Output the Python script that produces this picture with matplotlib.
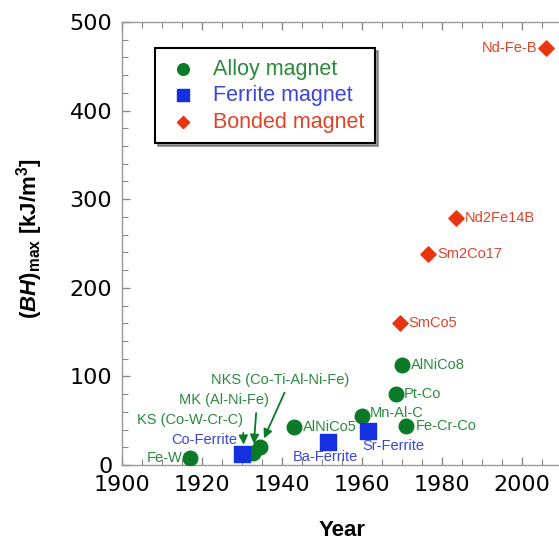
import matplotlib
matplotlib.use("Agg")
import matplotlib.pyplot as plt
from matplotlib.ticker import MultipleLocator

plt.rcParams['mathtext.fontset'] = 'custom'
plt.rcParams['mathtext.rm'] = 'Liberation Sans:bold'
plt.rcParams['mathtext.it'] = 'Liberation Sans:italic:bold'
plt.rcParams['mathtext.bf'] = 'Liberation Sans:bold'

# alloy magnets
alloy_names = ['Fe-W', 'KS (Co-W-Cr-C)', 'MK (Al-Ni-Fe)', 'NKS (Co-Ti-Al-Ni-Fe)',
               'AlNiCo5', 'Mn-Al-C', 'Pt-Co', 'AlNiCo8', 'Fe-Cr-Co']
alloy_year = [1917, 1930.5, 1932.8, 1934.5, 1943, 1960, 1968.5, 1970, 1971]
alloy_bh = [8, 12, 13, 20, 43, 55, 80, 113, 44]

# ferrite magnets
ferrite_names = ['Co-Ferrite', 'Ba-Ferrite', 'Sr-Ferrite']
ferrite_year = [1930, 1951.5, 1961.5]
ferrite_bh = [12, 26, 38]

# bonded magnets
bonded_names = ['SmCo5', 'Sm2Co17', 'Nd2Fe14B', 'Nd-Fe-B']
bonded_year = [1969.5, 1976.5, 1983.5, 2006]
bonded_bh = [160, 238, 279, 471]

green = '#0b7a26'
blue = '#1530e0'
red = '#e8350f'
green_t = '#2b8a3c'
blue_t = '#3a46d8'
red_t = '#e0432a'

fig = plt.figure(figsize=(5.59, 5.43), dpi=100)
ax = fig.add_axes([122 / 559, 1 - 465 / 543, 440 / 559, 443 / 543])

ax.scatter(alloy_year, alloy_bh, s=110, marker='o', color=green, zorder=3,
           label='Alloy magnet')
ax.scatter(ferrite_year, ferrite_bh, s=130, marker='s', color=blue, zorder=3,
           label='Ferrite magnet')
ax.scatter(bonded_year, bonded_bh, s=60, marker='D', color=red, zorder=3,
           label='Bonded magnet')

tfont = dict(family='Liberation Sans', fontsize=10.5)

# label offsets in pixels: (dx, dy, ha)
alloy_off = {
    'Fe-W': (-8, 0, 'right'),
    'AlNiCo5': (9, 0, 'left'),
    'Mn-Al-C': (8, 3, 'left'),
    'Pt-Co': (8, 0, 'left'),
    'AlNiCo8': (9, 0, 'left'),
    'Fe-Cr-Co': (10, 0, 'left'),
}
arrow_off = {
    'KS (Co-W-Cr-C)': (-54, 34, (1.0, 0.0)),
    'MK (Al-Ni-Fe)': (-29, 53, (0.86, 0.0)),
    'NKS (Co-Ti-Al-Ni-Fe)': (20, 67, (0.55, 0.0)),
}
for name, x, y in zip(alloy_names, alloy_year, alloy_bh):
    if name in alloy_off:
        dx, dy, ha = alloy_off[name]
        ax.annotate(name, (x, y), xytext=(dx, dy), textcoords='offset pixels',
                    ha=ha, va='center', color=green_t, **tfont)
    else:
        dx, dy, rp = arrow_off[name]
        ax.annotate(name, (x, y), xytext=(dx, dy), textcoords='offset pixels',
                    ha='center', va='center', color=green_t, **tfont,
                    arrowprops=dict(arrowstyle='-|>,head_length=0.5,head_width=0.25',
                                    color=green, lw=1.3, relpos=rp,
                                    shrinkA=2, shrinkB=7))

ferrite_off = [(-5, 14, 'right'), (-3, -15, 'center'), (-6, -15, 'left')]
for name, x, y, (dx, dy, ha) in zip(ferrite_names, ferrite_year, ferrite_bh, ferrite_off):
    ax.annotate(name, (x, y), xytext=(dx, dy), textcoords='offset pixels',
                ha=ha, va='center', color=blue_t, **tfont)

bonded_off = [(8, 0, 'left'), (9, 0, 'left'), (9, 0, 'left'), (-9, 0, 'right')]
for name, x, y, (dx, dy, ha) in zip(bonded_names, bonded_year, bonded_bh, bonded_off):
    ax.annotate(name, (x, y), xytext=(dx, dy), textcoords='offset pixels',
                ha=ha, va='center', color=red_t, **tfont)

ax.set_xlim(1900, 2010)
ax.set_ylim(0, 500)
ax.xaxis.set_major_locator(MultipleLocator(20))
ax.xaxis.set_minor_locator(MultipleLocator(5))
ax.yaxis.set_major_locator(MultipleLocator(100))
ax.yaxis.set_minor_locator(MultipleLocator(20))
ax.tick_params(which='both', direction='in', top=True, right=False, color='#888888')
ax.tick_params(which='major', length=6, width=1, labelsize=16, pad=7)
ax.tick_params(which='minor', length=4, width=0.8)
for lab in ax.get_xticklabels() + ax.get_yticklabels():
    lab.set_family('DejaVu Sans')
for sp in ax.spines.values():
    sp.set_color('#999999')
    sp.set_linewidth(1)

ax.set_xlabel('Year', family='Liberation Sans', fontsize=16, fontweight='bold')
ax.xaxis.set_label_coords(0.5, -0.125)
ax.set_ylabel(r'$(BH)_{\mathrm{max}}$ [kJ/m$^{\mathrm{3}}$]', family='Liberation Sans',
              fontsize=16, fontweight='bold')
ax.yaxis.set_label_coords(-0.175, 0.51)

leg = ax.legend(loc='upper left', bbox_to_anchor=(155 / 559, 1 - 48 / 543),
                bbox_transform=fig.transFigure, borderaxespad=0, fancybox=False,
                shadow=True, edgecolor='black', framealpha=1,
                prop={'family': 'Liberation Sans', 'size': 15.5},
                labelcolor=[green_t, blue_t, red_t], handletextpad=0.6,
                labelspacing=0.25, borderpad=0.5, handlelength=1.6, markerscale=0.8)
leg.get_frame().set_linewidth(1.5)

fig.savefig('out.png', dpi=100)
